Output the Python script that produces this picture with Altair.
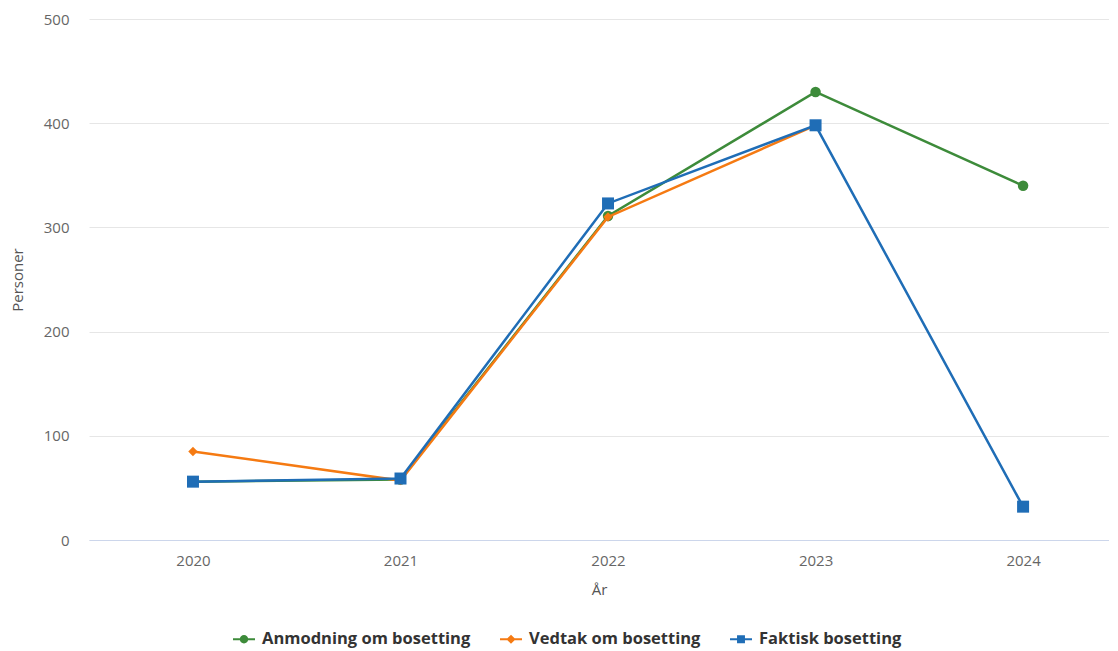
import altair as alt
import pandas as pd

years = [2020, 2021, 2022, 2023, 2024]
series_names = ["Anmodning om bosetting", "Vedtak om bosetting", "Faktisk bosetting"]
anmodning = [56, 58, 311, 430, 340]
vedtak = [85, 57, 310, 398, None]
faktisk = [56, 59, 323, 398, 32]
colors = ["#3d8b3a", "#f57a12", "#1f6db6"]
marker_shapes = ["circle", "diamond", "square"]
legend_paths = [
    "M-1,-0.1H1V0.1H-1Z M0.38,0A0.38,0.38 0 1,1 -0.38,0A0.38,0.38 0 1,1 0.38,0Z",
    "M-1,-0.1H1V0.1H-1Z M0,-0.42L0.42,0L0,0.42L-0.42,0Z",
    "M-1,-0.1H1V0.1H-1Z M-0.36,-0.36H0.36V0.36H-0.36Z",
]

rows = []
for name, vals in zip(series_names, [anmodning, vedtak, faktisk]):
    for yr, v in zip(years, vals):
        if v is not None:
            rows.append({"År": yr, "Personer": v, "Serie": name})
df = pd.DataFrame(rows)

FONT = "Open Sans"

x_enc = alt.X(
    "År:Q",
    scale=alt.Scale(domain=[2019.499, 2024.414], nice=False, zero=False),
    axis=alt.Axis(
        values=years, format="d", grid=False, ticks=False, domainColor="#ccd6eb",
        labelColor="#666666", labelFontSize=15, labelPadding=13,
        title="År", titleColor="#555555", titleFontSize=15, titleFontWeight="normal",
        titlePadding=14,
    ),
)
y_enc = alt.Y(
    "Personer:Q",
    scale=alt.Scale(domain=[0, 500], nice=False),
    axis=alt.Axis(
        values=[0, 100, 200, 300, 400, 500], grid=True, gridColor="#e6e6e6",
        domain=False, ticks=False, labelColor="#666666", labelFontSize=15,
        labelPadding=20, title="Personer", titleColor="#555555", titleFontSize=15,
        titleFontWeight="normal", titlePadding=18,
    ),
)
color_scale = alt.Scale(domain=series_names, range=colors)

base = alt.Chart(df)
layers = []
for name, shp in zip(series_names, marker_shapes):
    sub = base.transform_filter(alt.datum.Serie == name)
    layers.append(
        sub.mark_line(strokeWidth=2.5).encode(
            x=x_enc, y=y_enc, color=alt.Color("Serie:N", scale=color_scale, legend=None)
        )
    )
    size = {"circle": 110, "diamond": 90, "square": 144}[shp]
    layers.append(
        sub.mark_point(shape=shp, filled=True, opacity=1, size=size).encode(
            x=x_enc, y=y_enc, color=alt.Color("Serie:N", scale=color_scale, legend=None)
        )
    )

leg = alt.Legend(title=None, orient="none", direction="horizontal",
                 legendX=144, legendY=609, columnPadding=29, symbolOpacity=1)
legend_layer = base.mark_point(filled=True, opacity=0).encode(
    x=x_enc,
    y=y_enc,
    color=alt.Color("Serie:N", scale=color_scale, legend=leg),
    shape=alt.Shape("Serie:N", scale=alt.Scale(domain=series_names, range=legend_paths),
                    legend=leg),
)

chart = alt.layer(*layers, legend_layer).resolve_legend(
    color="independent", shape="independent"
).properties(
    width=1020, height=521, padding={"left": 2, "top": 4, "right": 0, "bottom": 0}
).configure(font=FONT).configure_view(stroke=None).configure_legend(
    labelFont=FONT, labelFontSize=16.5, labelFontWeight="bold", labelColor="#333333",
    symbolSize=484, symbolStrokeWidth=0, symbolOpacity=1,
    labelOffset=7, labelLimit=400,
)

chart.save("out.html", embed_options={"renderer": "svg", "actions": False})
